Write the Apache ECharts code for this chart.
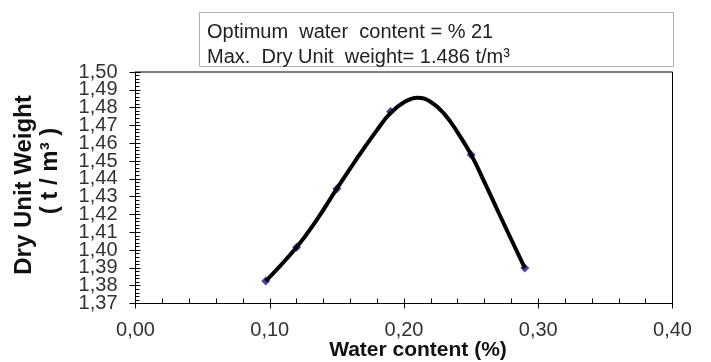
<!DOCTYPE html>
<html>
<head>
<meta charset="utf-8">
<script src="https://cdn.jsdelivr.net/npm/echarts@6/dist/echarts.min.js"></script>
<style>html,body{margin:0;padding:0;background:#fff;}#c{width:711px;height:362px;}</style>
</head>
<body>
<div id="c"></div>
<script>
// Measured test points (water content, dry unit weight)
var testWater = [0.097, 0.12, 0.15, 0.19, 0.25, 0.29];
var testDensity = [1.3826, 1.4016, 1.4345, 1.4778, 1.4536, 1.3899];
// Fitted compaction curve
var curveWater = [0.097, 0.12, 0.135, 0.15, 0.165, 0.18, 0.19, 0.20, 0.21, 0.22, 0.23, 0.24, 0.25, 0.26, 0.27, 0.28, 0.29];
var curveDensity = [1.3826, 1.4016, 1.4170, 1.4345, 1.4515, 1.4675, 1.4770, 1.4830, 1.4856, 1.4832, 1.4765, 1.4660, 1.4536, 1.4380, 1.4218, 1.4058, 1.3899];
// Axes
var xMin = 0, xMax = 0.4, xStep = 0.1;
var yMin = 1.37, yMax = 1.50, yStep = 0.01;
var yLabelStep = 0.02;
var yMinEven = 1.38;
// Texts
var annotationLines = ['Optimum  water  content = % 21', 'Max.  Dry Unit  weight= 1.486 t/m³'];
var yTitle1 = 'Dry Unit Weight';
var yTitle2 = '( t / m³ )';
var xTitle = 'Water content (%)';

var font = '"Liberation Sans", Arial, sans-serif';
function pairs(a, b) { return a.map(function (v, i) { return [v, b[i]]; }); }
function comma(d) { return function (v) { return v.toFixed(d).replace('.', ','); }; }

var W = 711, H = 362;
var gLeft = 135.5, gRight = 38.5, gTop = 72, gBottom = 58.5;
var plotH = H - gTop - gBottom;
// second (invisible) grid whose bottom sits at the 1.38 level, used only to place the even labels
var evenBottom = gBottom + plotH * (yMinEven - yMin) / (yMax - yMin);

var labelStyle = { fontFamily: font, fontSize: 20, color: '#333', margin: 18 };

var chart = echarts.init(document.getElementById('c'), null, { renderer: 'canvas' });
chart.setOption({
  animation: false,
  backgroundColor: '#fff',
  grid: [
    { left: gLeft, right: gRight, top: gTop, bottom: gBottom, show: true, borderColor: '#000', borderWidth: 1, backgroundColor: 'transparent' },
    { left: gLeft, right: gRight, top: gTop, bottom: evenBottom, show: false }
  ],
  xAxis: [
    {
      type: 'value', gridIndex: 0, min: xMin, max: xMax, interval: xStep,
      axisLine: { lineStyle: { color: '#000', width: 1 } },
      axisTick: { show: true, inside: false, length: 5, lineStyle: { color: '#000' } },
      splitLine: { show: false },
      axisLabel: { formatter: comma(2), fontFamily: font, fontSize: 20, color: '#333', margin: 17, showMinLabel: true, showMaxLabel: true }
    },
    {
      type: 'value', gridIndex: 0, min: xMin, max: xMax, interval: xStep, position: 'bottom',
      axisLine: { show: false },
      axisTick: { show: true, inside: true, length: 5, lineStyle: { color: '#000' } },
      minorTick: { show: true, splitNumber: 5, length: 5, lineStyle: { color: '#000' } },
      splitLine: { show: false },
      axisLabel: { show: false }
    },
    {
      type: 'value', gridIndex: 1, min: xMin, max: xMax, show: false
    }
  ],
  yAxis: [
    {
      type: 'value', gridIndex: 0, min: yMin, max: yMax, interval: yStep,
      axisLine: { show: true, lineStyle: { color: '#000', width: 1 } },
      axisTick: { show: true, inside: false, length: 6, lineStyle: { color: '#000' } },
      splitLine: { show: false },
      axisLabel: { show: false }
    },
    {
      type: 'value', gridIndex: 0, min: yMin, max: yMax, interval: yStep, position: 'left',
      axisLine: { show: false },
      axisTick: { show: true, inside: true, length: 5, lineStyle: { color: '#000' } },
      minorTick: { show: true, splitNumber: 5, length: 4, lineStyle: { color: '#000' } },
      splitLine: { show: false },
      axisLabel: { show: false }
    },
    {
      // odd labels: 1,37 1,39 ... 1,49
      type: 'value', gridIndex: 0, min: yMin, max: yMax, interval: yLabelStep, position: 'left',
      axisLine: { show: false }, axisTick: { show: false }, splitLine: { show: false },
      axisLabel: Object.assign({ formatter: comma(2), showMinLabel: true, showMaxLabel: false }, labelStyle)
    },
    {
      // even labels: 1,38 1,40 ... 1,50
      type: 'value', gridIndex: 1, min: yMinEven, max: yMax, interval: yLabelStep, position: 'left',
      axisLine: { show: false }, axisTick: { show: false }, splitLine: { show: false },
      axisLabel: Object.assign({ formatter: comma(2), showMinLabel: true, showMaxLabel: true }, labelStyle)
    }
  ],
  series: [
    {
      type: 'scatter', xAxisIndex: 0, yAxisIndex: 0, z: 2,
      data: pairs(testWater, testDensity),
      symbol: 'diamond', symbolSize: 9,
      itemStyle: { color: '#1a1a8c' }
    },
    {
      type: 'line', xAxisIndex: 0, yAxisIndex: 0, z: 3,
      data: pairs(curveWater, curveDensity),
      smooth: 0.45, showSymbol: false,
      lineStyle: { color: '#000', width: 4 }
    }
  ],
  graphic: [
    { type: 'rect', shape: { x: 199.5, y: 12.5, width: 474, height: 54 }, style: { fill: '#fff', stroke: '#b0b0b0', lineWidth: 1 } },
    { type: 'text', x: 207, y: 32, style: { text: annotationLines[0], font: '20px ' + font, fill: '#222', textVerticalAlign: 'middle' } },
    { type: 'text', x: 207, y: 57, style: { text: annotationLines[1], font: '20px ' + font, fill: '#222', textVerticalAlign: 'middle' } },
    { type: 'text', x: 24, y: 185, rotation: Math.PI / 2, style: { text: yTitle1, font: 'bold 24px ' + font, fill: '#111', textAlign: 'center', textVerticalAlign: 'middle' } },
    { type: 'text', x: 50, y: 171, rotation: Math.PI / 2, style: { text: yTitle2, font: 'bold 24px ' + font, fill: '#111', textAlign: 'center', textVerticalAlign: 'middle' } },
    { type: 'text', x: 418, y: 350, style: { text: xTitle, font: 'bold 21px ' + font, fill: '#111', textAlign: 'center', textVerticalAlign: 'middle' } }
  ]
});
</script>
</body>
</html>
